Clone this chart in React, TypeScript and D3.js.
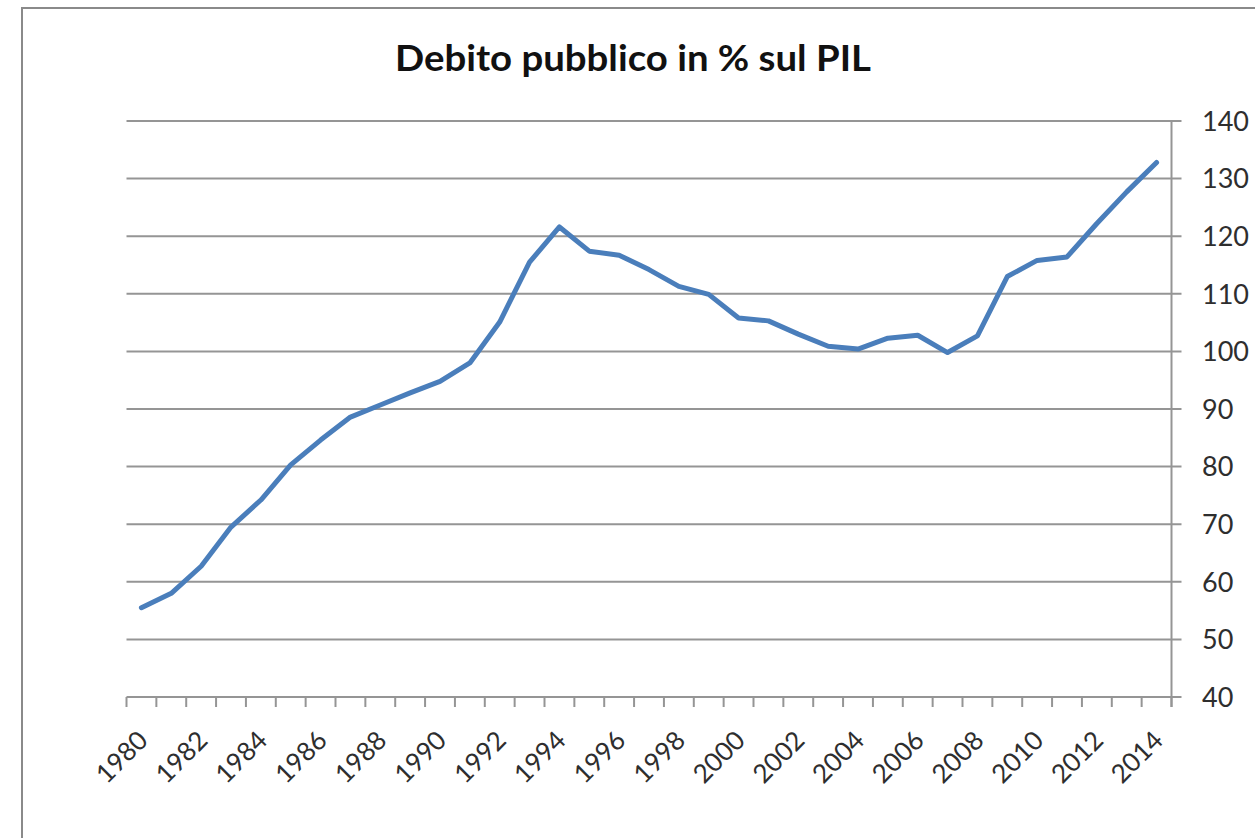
import * as d3 from 'd3';
import React from 'react';

const years = d3.range(1980, 2015);
const debt = [
    55.5, 58.0, 62.7, 69.5, 74.2, 80.3, 84.6, 88.6, 90.7, 92.8,
    94.8, 98.0, 105.1, 115.5, 121.6, 117.4, 116.7, 114.2, 111.3, 109.9,
    105.8, 105.3, 103.0, 100.9, 100.4, 102.3, 102.8, 99.8, 102.7, 113.0,
    115.8, 116.4, 122.2, 127.7, 132.8,
];
const yTicks = [40, 50, 60, 70, 80, 90, 100, 110, 120, 130, 140];
const labelYears = years.filter((y) => (y - 1980) % 2 === 0);

const W = 1255;
const H = 838;
const FONT = 'Lato, "Open Sans", sans-serif';

export default function App() {
    const x = d3.scaleBand<number>().domain(years).range([126.5, 1171.5]);
    const y = d3.scaleLinear().domain([40, 140]).range([697, 121]);
    const cx = (yr: number) => (x(yr) ?? 0) + x.bandwidth() / 2;

    const line = d3
        .line<number>()
        .x((_, i) => cx(years[i]))
        .y((d) => y(d));

    const right = x.range()[1];
    const left = x.range()[0];
    // tick marks sit between categories
    const boundaries = years.map((yr) => x(yr) ?? 0).concat([right]);

    return (
        <svg
            width={W}
            height={H}
            style={{ position: 'absolute', left: 0, top: 0, background: '#fff' }}
        >
            <rect x={22} y={8} width={W} height={H} fill="#fff" stroke="#8a8a8a" strokeWidth={2} />

            <text
                x={633}
                y={71}
                textAnchor="middle"
                fontFamily={FONT}
                fontWeight={700}
                fontSize={36}
                fill="#111"
                textLength={476}
                lengthAdjust="spacingAndGlyphs"
            >
                Debito pubblico in % sul PIL
            </text>

            {yTicks.map((t) => (
                <line
                    key={t}
                    x1={left}
                    x2={right + 10}
                    y1={y(t)}
                    y2={y(t)}
                    stroke="#959595"
                    strokeWidth={2}
                />
            ))}

            <line x1={right} x2={right} y1={y(140)} y2={y(40) + 10} stroke="#959595" strokeWidth={2} />

            {boundaries.map((bx, i) => (
                <line key={i} x1={bx} x2={bx} y1={y(40)} y2={y(40) + 10} stroke="#959595" strokeWidth={2} />
            ))}

            {yTicks.map((t) => (
                <text
                    key={t}
                    x={1202}
                    y={y(t)}
                    dy="0.36em"
                    fontFamily={FONT}
                    fontSize={27}
                    fill="#2e2e2e"
                >
                    {t}
                </text>
            ))}

            {labelYears.map((yr) => (
                <text
                    key={yr}
                    transform={`translate(${cx(yr) + 8},${742}) rotate(-45)`}
                    textAnchor="end"
                    fontFamily={FONT}
                    fontSize={26}
                    fill="#2e2e2e"
                >
                    {yr}
                </text>
            ))}

            <path
                d={line(debt) ?? ''}
                fill="none"
                stroke="#4a7ebb"
                strokeWidth={5}
                strokeLinejoin="round"
                strokeLinecap="round"
            />
        </svg>
    );
}
